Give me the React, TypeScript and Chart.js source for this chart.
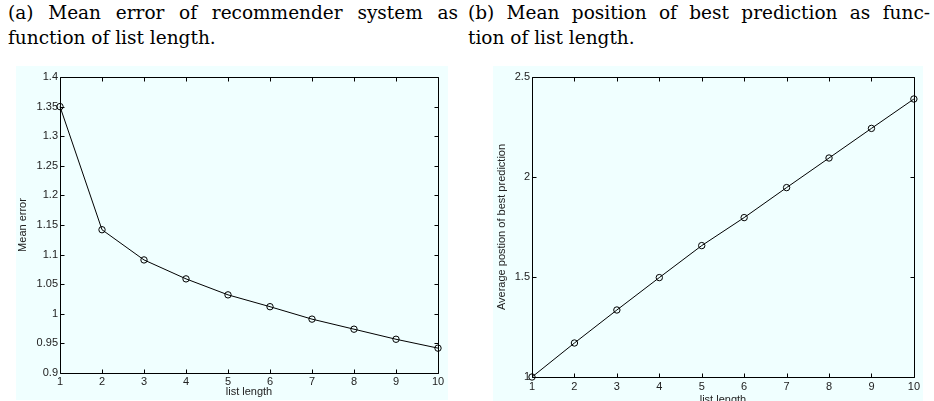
import React, { useEffect, useRef } from "react";
import { Chart, registerables } from "chart.js";

Chart.register(...registerables);

// ---- data ----
const listLength = [1, 2, 3, 4, 5, 6, 7, 8, 9, 10];
const meanError = [1.35, 1.142, 1.091, 1.059, 1.032, 1.012, 0.991, 0.974, 0.957, 0.942];
const avgPosition = [1.0, 1.17, 1.335, 1.497, 1.657, 1.797, 1.947, 2.095, 2.243, 2.39];

const xTickLabels = ["1", "2", "3", "4", "5", "6", "7", "8", "9", "10"];
const errorYTicks = [0.9, 0.95, 1, 1.05, 1.1, 1.15, 1.2, 1.25, 1.3, 1.35, 1.4];
const errorYTickLabels = ["0.9", "0.95", "1", "1.05", "1.1", "1.15", "1.2", "1.25", "1.3", "1.35", "1.4"];
const positionYTicks = [1, 1.5, 2, 2.5];
const positionYTickLabels = ["1", "1.5", "2", "2.5"];

const captionA1 = "(a) Mean error of recommender system as";
const captionA2 = "function of list length.";
const captionB1 = "(b) Mean position of best prediction as func-";
const captionB2 = "tion of list length.";

const TICK_FONT = { family: "'Liberation Sans', Arial, Helvetica, sans-serif", size: 11 };
const TEXT_COLOR = "#222";
const BG = "#F0FFFF";

const boxPlugin = {
  id: "matlabBox",
  beforeDatasetsDraw(chart: any) {
    const { ctx, chartArea } = chart;
    const { left, right, top, bottom } = chartArea;
    const L = Math.round(left) + 0.5;
    const R = Math.round(right) + 0.5;
    const T = Math.round(top) + 0.5;
    const B = Math.round(bottom) + 0.5;
    ctx.save();
    ctx.strokeStyle = "#000";
    ctx.lineWidth = 1;
    ctx.beginPath();
    ctx.rect(L, T, R - L, B - T);
    const tl = 4;
    const xs = chart.scales.x;
    xs.ticks.forEach((t: any) => {
      const px = Math.round(xs.getPixelForValue(t.value)) + 0.5;
      ctx.moveTo(px, B);
      ctx.lineTo(px, B - tl);
      ctx.moveTo(px, T);
      ctx.lineTo(px, T + tl);
    });
    const ys = chart.scales.y;
    ys.ticks.forEach((t: any) => {
      const py = Math.round(ys.getPixelForValue(t.value)) + 0.5;
      ctx.moveTo(L, py);
      ctx.lineTo(L + tl, py);
      ctx.moveTo(R, py);
      ctx.lineTo(R - tl, py);
    });
    ctx.stroke();
    ctx.restore();
  },
};

type PanelProps = {
  left: number;
  top: number;
  width: number;
  height: number;
  yValues: number[];
  yTicks: number[];
  yTickLabels: string[];
  yMin: number;
  yMax: number;
  yTitle: string;
  yWidth: number;
  xHeight: number;
  padTop: number;
  padRight: number;
  yTitlePad: number;
  xTitlePad: number;
  xTickPad: number;
};

function Panel(p: PanelProps) {
  const ref = useRef<HTMLCanvasElement | null>(null);
  useEffect(() => {
    if (!ref.current) return;
    const chart = new Chart(ref.current, {
      type: "line",
      data: {
        datasets: [
          {
            data: listLength.map((x, i) => ({ x, y: p.yValues[i] })),
            borderColor: "#000",
            borderWidth: 1,
            pointRadius: 3.2,
            pointBorderWidth: 1,
            pointBorderColor: "#000",
            pointBackgroundColor: "rgba(0,0,0,0)",
            pointStyle: "circle",
            tension: 0,
            fill: false,
            clip: false as any,
          },
        ],
      },
      options: {
        animation: false,
        responsive: false,
        maintainAspectRatio: false,
        layout: { padding: { top: p.padTop, right: p.padRight, left: 0, bottom: 0 } },
        plugins: { legend: { display: false }, tooltip: { enabled: false } },
        scales: {
          x: {
            type: "linear",
            min: 1,
            max: 10,
            afterBuildTicks: (s: any) => {
              s.ticks = listLength.map((v) => ({ value: v }));
            },
            afterFit: (s: any) => {
              s.height = p.xHeight;
            },
            grid: { display: false, drawTicks: false },
            border: { display: false },
            ticks: {
              font: TICK_FONT,
              color: TEXT_COLOR,
              padding: p.xTickPad,
              maxRotation: 0,
              autoSkip: false,
              callback: (_v: any, i: number) => xTickLabels[i],
            },
            title: {
              display: true,
              text: "list length",
              font: TICK_FONT,
              color: TEXT_COLOR,
              padding: { top: 0, bottom: p.xTitlePad },
            },
          },
          y: {
            type: "linear",
            min: p.yMin,
            max: p.yMax,
            afterBuildTicks: (s: any) => {
              s.ticks = p.yTicks.map((v) => ({ value: v }));
            },
            afterFit: (s: any) => {
              s.width = p.yWidth;
            },
            grid: { display: false, drawTicks: false },
            border: { display: false },
            ticks: {
              font: TICK_FONT,
              color: TEXT_COLOR,
              padding: 2,
              autoSkip: false,
              callback: (_v: any, i: number) => p.yTickLabels[i],
            },
            title: {
              display: true,
              text: p.yTitle,
              font: TICK_FONT,
              color: TEXT_COLOR,
              padding: { top: p.yTitlePad, bottom: 0 },
            },
          },
        },
      },
      plugins: [boxPlugin],
    } as any);
    return () => chart.destroy();
  }, []);
  return (
    <div
      style={{
        position: "absolute",
        left: p.left,
        top: p.top,
        width: p.width,
        height: p.height,
        background: BG,
      }}
    >
      <canvas ref={ref} width={p.width} height={p.height} style={{ display: "block" }} />
    </div>
  );
}

const captionStyle: React.CSSProperties = {
  position: "absolute",
  top: 0,
  fontFamily: "'DejaVu Serif', 'Liberation Serif', serif",
  fontSize: 18.5,
  lineHeight: "25px",
  color: "#000",
  whiteSpace: "nowrap",
};

function Caption({ left, width, l1, l2 }: { left: number; width: number; l1: string; l2: string }) {
  return (
    <div style={{ ...captionStyle, left, width }}>
      <div style={{ textAlign: "justify", textAlignLast: "justify", whiteSpace: "normal" }}>{l1}</div>
      <div>{l2}</div>
    </div>
  );
}

export default function App() {
  return (
    <div
      style={{
        position: "absolute",
        left: 0,
        top: 0,
        width: 934,
        height: 401,
        overflow: "hidden",
        background: "#fff",
      }}
    >
      <Caption left={8} width={450} l1={captionA1} l2={captionA2} />
      <Caption left={468} width={462} l1={captionB1} l2={captionB2} />
      <Panel
        left={16}
        top={66}
        width={432}
        height={334}
        yValues={meanError}
        yTicks={errorYTicks}
        yTickLabels={errorYTickLabels}
        yMin={0.9}
        yMax={1.4}
        yTitle="Mean error"
        yWidth={44}
        xHeight={27}
        padTop={11}
        padRight={10}
        yTitlePad={0}
        xTitlePad={1}
        xTickPad={2}
      />
      <Panel
        left={493}
        top={66}
        width={430}
        height={345}
        yValues={avgPosition}
        yTicks={positionYTicks}
        yTickLabels={positionYTickLabels}
        yMin={1}
        yMax={2.5}
        yTitle="Average postion of best prediction"
        yWidth={39}
        xHeight={34}
        padTop={11}
        padRight={9}
        yTitlePad={2}
        xTitlePad={4}
        xTickPad={3}
      />
    </div>
  );
}
